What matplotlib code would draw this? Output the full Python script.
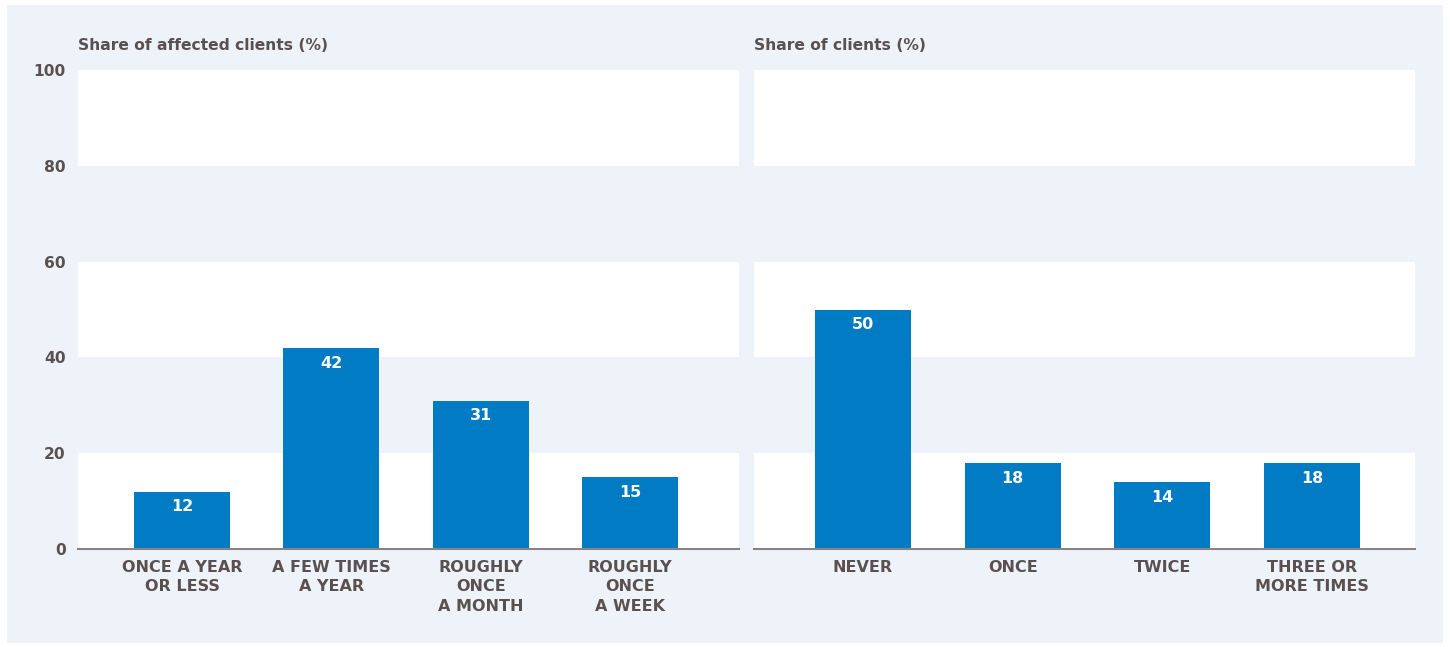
import matplotlib
matplotlib.use("Agg")
import matplotlib.pyplot as plt
from matplotlib.patches import Rectangle

left_categories = ["ONCE A YEAR\nOR LESS", "A FEW TIMES\nA YEAR", "ROUGHLY\nONCE\nA MONTH", "ROUGHLY\nONCE\nA WEEK"]
left_values = [12, 42, 31, 15]
right_categories = ["NEVER", "ONCE", "TWICE", "THREE OR\nMORE TIMES"]
right_values = [50, 18, 14, 18]
left_title = "Share of affected clients (%)"
right_title = "Share of clients (%)"
y_ticks = [0, 20, 40, 60, 80, 100]

BG = "#EEF3FA"
BAR = "#007BC4"
TXT = "#5A5050"
FONT = "DejaVu Sans"

W, H = 1450, 647
fig = plt.figure(figsize=(W / 100, H / 100), dpi=100, facecolor="white")
fig.patches.append(Rectangle((7 / W, 1 - 643 / H), (1443 - 7) / W, (643 - 5) / H,
                             transform=fig.transFigure, facecolor=BG, edgecolor="none", zorder=-10))

def panel(x0, xlim, cats, vals, title, show_y):
    ax = fig.add_axes([x0 / W, 1 - 549 / H, 661 / W, 479 / H], zorder=1)
    ax.set_facecolor(BG)
    for lo in (0, 40, 80):
        ax.axhspan(lo, lo + 20, color="white", zorder=0, lw=0)
    xs = list(range(len(cats)))
    ax.bar(xs, vals, width=0.643, color=BAR, zorder=2)
    for x, v in zip(xs, vals):
        ax.annotate(str(v), (x, v), xytext=(0, -11), textcoords="offset points",
                    ha="center", va="center", color="white", fontweight="bold",
                    fontsize=11.5, family=FONT, zorder=3)
    ax.set_xlim(*xlim)
    ax.set_ylim(0, 100)
    ax.set_xticks(xs)
    ax.set_xticklabels(cats, fontsize=11.5, fontweight="bold", color=TXT,
                       family=FONT, linespacing=1.35)
    ax.set_yticks(y_ticks)
    if show_y:
        ax.set_yticklabels([str(t) for t in y_ticks], fontsize=11.2, fontweight="bold",
                           color=TXT, family=FONT)
    else:
        ax.set_yticklabels([])
    ax.tick_params(axis="both", length=0)
    ax.tick_params(axis="x", pad=8)
    ax.tick_params(axis="y", pad=9)
    for s in ("top", "right", "left"):
        ax.spines[s].set_visible(False)
    ax.spines["bottom"].set_color("#8A8282")
    ax.spines["bottom"].set_linewidth(1.5)
    ax.spines["bottom"].set_zorder(4)
    fig.text(x0 / W, 1 - 45 / H, title, ha="left", va="center",
             fontsize=11.2, fontweight="bold", color=TXT, family=FONT)
    return ax

panel(78, (-0.697, 3.73), left_categories, left_values, left_title, True)
panel(754, (-0.728, 3.688), right_categories, right_values, right_title, False)

fig.savefig("out.png", dpi=100, facecolor="white")
